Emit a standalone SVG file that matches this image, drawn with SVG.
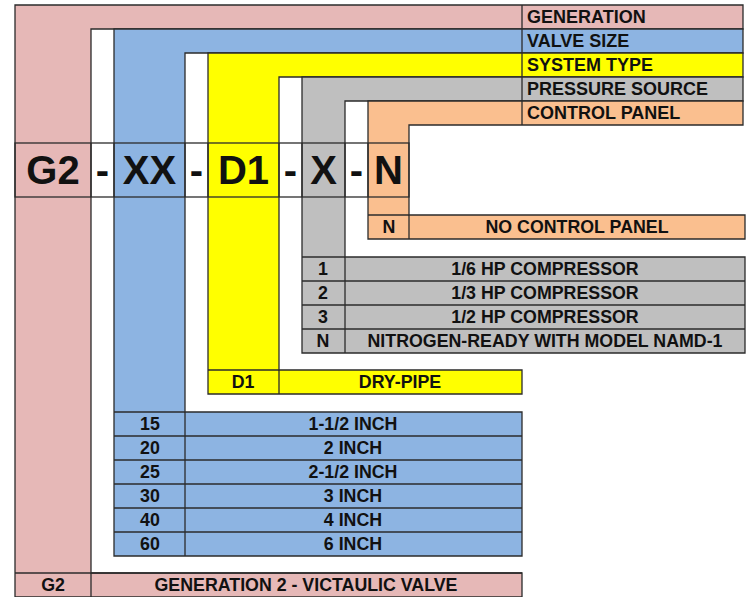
<svg xmlns="http://www.w3.org/2000/svg" width="750" height="597" viewBox="0 0 750 597">
<style>
.s{stroke:#2b2b2b;stroke-width:1.3;stroke-linejoin:miter}
.pk{fill:#E6B8B7}.bl{fill:#8DB4E2}.ye{fill:#FFFF00}.gr{fill:#BFBFBF}.or{fill:#FABF8F}
.ln{stroke:#2b2b2b;stroke-width:1.3;fill:none}
text{font-family:"Liberation Sans",Arial,sans-serif;font-weight:bold;fill:#111}
.lb{font-size:18px}
.t{font-size:17.8px;text-anchor:middle}
.c{font-size:40px;text-anchor:middle}
</style>
<rect width="750" height="597" fill="#fff"/>
<g id="generation">
<polygon class="s pk" points="15,5 743,5 743,29 91,29 91,573 522,573 522,597 15,597"/>
<line class="ln" x1="522" y1="5" x2="522" y2="29"/>
<line class="ln" x1="15" y1="573" x2="522" y2="573"/>
<line class="ln" x1="91" y1="573" x2="91" y2="597"/>
<text class="lb" x="527" y="23">GENERATION</text>
<text class="t" x="53" y="591">G2</text>
<text class="t" x="306" y="591">GENERATION 2 - VICTAULIC VALVE</text>
</g>
<g id="valve-size">
<polygon class="s bl" points="114,29 743,29 743,53 185,53 185,412 522,412 522,556 114,556"/>
<line class="ln" x1="522" y1="29" x2="522" y2="53"/>
<line class="ln" x1="114" y1="412" x2="185" y2="412"/>
<line class="ln" x1="185" y1="412" x2="185" y2="556"/>
<line class="ln" x1="114" y1="436" x2="522" y2="436"/>
<line class="ln" x1="114" y1="460" x2="522" y2="460"/>
<line class="ln" x1="114" y1="484" x2="522" y2="484"/>
<line class="ln" x1="114" y1="508" x2="522" y2="508"/>
<line class="ln" x1="114" y1="532" x2="522" y2="532"/>
<text class="lb" x="527" y="47">VALVE SIZE</text>
<text class="t" x="150" y="430">15</text><text class="t" x="353" y="430">1-1/2 INCH</text>
<text class="t" x="150" y="454">20</text><text class="t" x="353" y="454">2 INCH</text>
<text class="t" x="150" y="478">25</text><text class="t" x="353" y="478">2-1/2 INCH</text>
<text class="t" x="150" y="502">30</text><text class="t" x="353" y="502">3 INCH</text>
<text class="t" x="150" y="526">40</text><text class="t" x="353" y="526">4 INCH</text>
<text class="t" x="150" y="550">60</text><text class="t" x="353" y="550">6 INCH</text>
</g>
<g id="system-type">
<polygon class="s ye" points="208,53 743,53 743,77 279,77 279,370 522,370 522,394 208,394"/>
<line class="ln" x1="522" y1="53" x2="522" y2="77"/>
<line class="ln" x1="208" y1="370" x2="279" y2="370"/>
<line class="ln" x1="279" y1="370" x2="279" y2="394"/>
<text class="lb" x="527" y="71">SYSTEM TYPE</text>
<text class="t" x="243" y="388">D1</text>
<text class="t" x="400" y="388">DRY-PIPE</text>
</g>
<g id="pressure-source">
<polygon class="s gr" points="302,77 743,77 743,101 345,101 345,257 745,257 745,353 302,353"/>
<line class="ln" x1="522" y1="77" x2="522" y2="101"/>
<line class="ln" x1="302" y1="257" x2="345" y2="257"/>
<line class="ln" x1="345" y1="257" x2="345" y2="353"/>
<line class="ln" x1="302" y1="281" x2="745" y2="281"/>
<line class="ln" x1="302" y1="305" x2="745" y2="305"/>
<line class="ln" x1="302" y1="329" x2="745" y2="329"/>
<text class="lb" x="527" y="95">PRESSURE SOURCE</text>
<text class="t" x="323" y="275">1</text><text class="t" x="545" y="275">1/6 HP COMPRESSOR</text>
<text class="t" x="323" y="299">2</text><text class="t" x="545" y="299">1/3 HP COMPRESSOR</text>
<text class="t" x="323" y="323">3</text><text class="t" x="545" y="323">1/2 HP COMPRESSOR</text>
<text class="t" x="323" y="347">N</text><text class="t" x="545" y="347">NITROGEN-READY WITH MODEL NAMD-1</text>
</g>
<g id="control-panel">
<polygon class="s or" points="368,101 743,101 743,125 409,125 409,215 745,215 745,239 368,239"/>
<line class="ln" x1="522" y1="101" x2="522" y2="125"/>
<line class="ln" x1="368" y1="215" x2="409" y2="215"/>
<line class="ln" x1="409" y1="215" x2="409" y2="239"/>
<text class="lb" x="527" y="119">CONTROL PANEL</text>
<text class="t" x="389" y="233">N</text>
<text class="t" x="577" y="233">NO CONTROL PANEL</text>
</g>
<g id="model-code">
<rect class="ln" x="15" y="143" width="394" height="54"/>
<line class="ln" x1="91" y1="143" x2="91" y2="197"/>
<line class="ln" x1="114" y1="143" x2="114" y2="197"/>
<line class="ln" x1="185" y1="143" x2="185" y2="197"/>
<line class="ln" x1="208" y1="143" x2="208" y2="197"/>
<line class="ln" x1="279" y1="143" x2="279" y2="197"/>
<line class="ln" x1="302" y1="143" x2="302" y2="197"/>
<line class="ln" x1="345" y1="143" x2="345" y2="197"/>
<line class="ln" x1="368" y1="143" x2="368" y2="197"/>
<text class="c" x="53" y="184">G2</text>
<text class="c" x="102.5" y="184">-</text>
<text class="c" x="149.5" y="184">XX</text>
<text class="c" x="196.5" y="184">-</text>
<text class="c" x="243.5" y="184">D1</text>
<text class="c" x="290.5" y="184">-</text>
<text class="c" x="323.5" y="184">X</text>
<text class="c" x="356.5" y="184">-</text>
<text class="c" x="388.5" y="184">N</text>
</g>
</svg>
